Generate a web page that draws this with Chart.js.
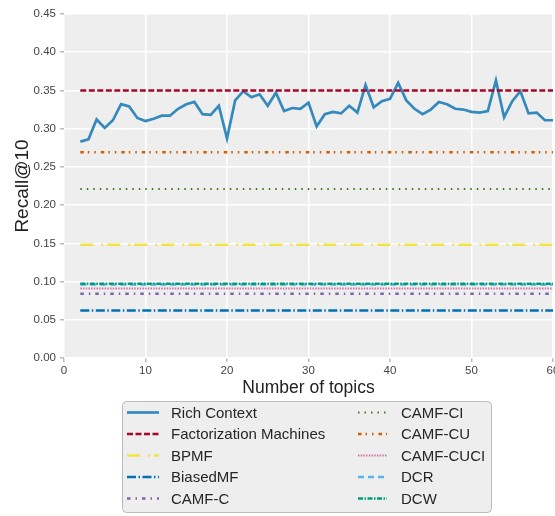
<!DOCTYPE html>
<html>
<head>
<meta charset="utf-8">
<script src="https://cdn.jsdelivr.net/npm/chart.js@4.4.0/dist/chart.umd.min.js"></script>
<style>
  html, body { margin: 0; padding: 0; background: #ffffff; }
  #wrap { width: 555px; height: 516px; }
</style>
</head>
<body>
<div id="wrap"><canvas id="recallChart" width="555" height="516"></canvas></div>
<script>
const topics = [2, 3, 4, 5, 6, 7, 8, 9, 10, 11, 12, 13, 14, 15, 16, 17, 18, 19, 20,
  21, 22, 23, 24, 25, 26, 27, 28, 29, 30, 31, 32, 33, 34, 35, 36, 37, 38, 39, 40,
  41, 42, 43, 44, 45, 46, 47, 48, 49, 50, 51, 52, 53, 54, 55, 56, 57, 58, 59, 60];

const richContext = [0.283, 0.286, 0.312, 0.301, 0.311, 0.332, 0.329, 0.314, 0.310,
  0.313, 0.317, 0.317, 0.326, 0.332, 0.335, 0.319, 0.318, 0.330, 0.287,
  0.337, 0.349, 0.341, 0.345, 0.330, 0.347, 0.323, 0.327, 0.326, 0.334,
  0.303, 0.319, 0.322, 0.320, 0.330, 0.321, 0.357, 0.328, 0.336, 0.339,
  0.360, 0.337, 0.326, 0.319, 0.325, 0.335, 0.332, 0.326, 0.325, 0.322,
  0.321, 0.323, 0.363, 0.315, 0.336, 0.349, 0.320, 0.321, 0.311, 0.311];

// flat baselines (one value per method)
const baselineNames = ['Factorization Machines', 'BPMF', 'BiasedMF', 'CAMF-C', 'CAMF-CI',
  'CAMF-CU', 'CAMF-CUCI', 'DCR', 'DCW'];
const baselineValues = [0.350, 0.148, 0.062, 0.084, 0.221, 0.269, 0.091, 0.096, 0.097];

const yTicks = [0.00, 0.05, 0.10, 0.15, 0.20, 0.25, 0.30, 0.35, 0.40, 0.45];

const lineStyles = [
  { color: '#348ABD', dash: [], width: 2.7 },
  { color: '#A60628', dash: [6, 2.5], width: 2.5 },
  { color: '#F0E442', dash: [13, 8, 2, 4], width: 2.5 },
  { color: '#0072B2', dash: [9, 2.5, 1.5, 2.5], width: 2.5 },
  { color: '#7A68A6', dash: [3.5, 5, 1.5, 5], width: 2.5 },
  { color: '#467821', dash: [1.5, 5], width: 2 },
  { color: '#D55E00', dash: [3.5, 4, 1.5, 5, 1.5, 5], width: 2.5 },
  { color: '#CC79A7', dash: [1.5, 1.2], width: 2 },
  { color: '#56B4E9', dash: [6, 4], width: 2.5 },
  { color: '#009E73', dash: [5, 1.5, 1.5, 1.5], width: 2.5 }
];

const datasets = [];
datasets.push({
  label: 'Rich Context',
  data: topics.map((t, i) => ({ x: t, y: richContext[i] }))
});
baselineNames.forEach((name, i) => {
  datasets.push({
    label: name,
    data: [{ x: topics[0], y: baselineValues[i] }, { x: topics[topics.length - 1], y: baselineValues[i] }]
  });
});
datasets.forEach((ds, i) => {
  const st = lineStyles[i];
  ds.borderColor = st.color;
  ds.backgroundColor = st.color;
  ds.borderDash = st.dash;
  ds.borderWidth = st.width;
  ds.pointRadius = 0;
  ds.fill = false;
  ds.tension = 0;
  ds.order = 20 - i;
});

const plotBackground = {
  id: 'plotBackground',
  beforeDraw(chart) {
    const { ctx, chartArea } = chart;
    ctx.save();
    ctx.fillStyle = '#EEEEEE';
    ctx.fillRect(chartArea.left, chartArea.top, chartArea.right - chartArea.left, chartArea.bottom - chartArea.top);
    ctx.restore();
  }
};

// two column legend below the axes, column-major like matplotlib
const columnLegend = {
  id: 'columnLegend',
  afterDraw(chart) {
    const ctx = chart.ctx;
    const boxL = 122, boxT = 401, boxR = 491, boxB = 512;
    ctx.save();
    ctx.beginPath();
    ctx.roundRect(boxL + 0.5, boxT + 0.5, boxR - boxL, boxB - boxT, 4);
    ctx.fillStyle = '#EEEEEE';
    ctx.fill();
    ctx.strokeStyle = '#BBBBBB';
    ctx.lineWidth = 1;
    ctx.stroke();

    const rows = 5;
    const colX = [127, 358];
    const sampleW = [32, 29];
    const textX = [171, 401];
    ctx.font = '15px "Liberation Sans", Arial, sans-serif';
    ctx.textBaseline = 'middle';
    chart.data.datasets.forEach((ds, i) => {
      const col = Math.floor(i / rows);
      const row = i % rows;
      const y = 412.5 + row * 21.5;
      const x0 = colX[col];
      ctx.beginPath();
      ctx.setLineDash(ds.borderDash);
      ctx.strokeStyle = ds.borderColor;
      ctx.lineWidth = ds.borderWidth;
      ctx.moveTo(x0, y);
      ctx.lineTo(x0 + sampleW[col], y);
      ctx.stroke();
      ctx.setLineDash([]);
      ctx.fillStyle = '#262626';
      ctx.fillText(ds.label, textX[col], y + 1);
    });
    ctx.restore();
  }
};

new Chart(document.getElementById('recallChart'), {
  type: 'line',
  data: { datasets: datasets },
  options: {
    responsive: false,
    animation: false,
    layout: { padding: { top: 14, right: 2, bottom: 116, left: 0 } },
    plugins: {
      legend: { display: false },
      tooltip: { enabled: false }
    },
    scales: {
      x: {
        type: 'linear',
        min: 0,
        max: 60,
        afterFit(scale) { scale.height = 42; scale.paddingRight = 0; scale.paddingLeft = 0; },
        border: { display: false },
        grid: { color: '#FFFFFF', lineWidth: 1.5, tickLength: 4, tickColor: '#BBBBBB' },
        ticks: {
          stepSize: 10,
          padding: 2,
          color: '#444444',
          font: { family: '"Liberation Sans", Arial, sans-serif', size: 11.5 }
        },
        title: {
          display: true,
          text: 'Number of topics',
          color: '#222222',
          padding: { top: 0, bottom: 1 },
          font: { family: '"Liberation Sans", Arial, sans-serif', size: 17.5 }
        }
      },
      y: {
        type: 'linear',
        min: 0,
        max: 0.45,
        afterFit(scale) { scale.width = 64; scale.paddingTop = 0; scale.paddingBottom = 0; },
        afterBuildTicks(scale) { scale.ticks = yTicks.map(v => ({ value: v })); },
        border: { display: false },
        grid: { color: '#FFFFFF', lineWidth: 1.5, tickLength: 4, tickColor: '#BBBBBB' },
        ticks: {
          padding: 4,
          color: '#444444',
          font: { family: '"Liberation Sans", Arial, sans-serif', size: 11.5 },
          callback: v => v.toFixed(2)
        },
        title: {
          display: true,
          text: 'Recall@10',
          color: '#222222',
          padding: { top: 11, bottom: 0 },
          font: { family: '"Liberation Sans", Arial, sans-serif', size: 19 }
        }
      }
    }
  },
  plugins: [plotBackground, columnLegend]
});
</script>
</body>
</html>
